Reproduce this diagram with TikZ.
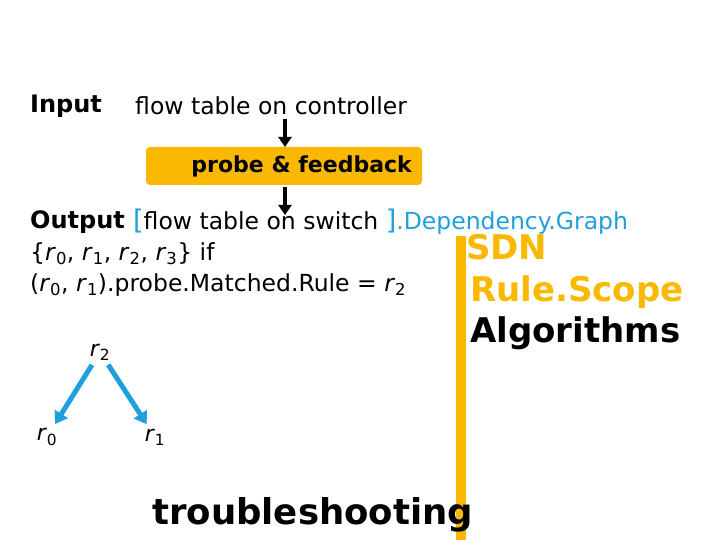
\documentclass[tikz,border=0pt]{standalone}
\usepackage{fontspec}
\setmainfont{DejaVu Sans}
\usetikzlibrary{arrows.meta}
\definecolor{org}{RGB}{250,184,0}
\definecolor{blu}{RGB}{30,160,220}
\newcommand{\rr}[1]{\textit{r}\textsubscript{#1}}
\begin{document}
\begin{tikzpicture}[x=1pt,y=-1pt,
  txt/.style={anchor=west,inner sep=0pt,font=\fontsize{23.5}{24}\selectfont},
  bt/.style={anchor=west,inner sep=0pt,font=\fontsize{24}{24}\selectfont\bfseries},
  big/.style={anchor=west,inner sep=0pt,font=\fontsize{34}{36}\selectfont\bfseries},
  rn/.style={circle,inner sep=1pt,minimum size=30pt,font=\fontsize{22}{24}\selectfont}]
\useasboundingbox (0,0) rectangle (720,540);
\node[bt] (in) at (30,106) {Input};
\node[txt] (ft) at (135,106) {flow table on controller};
\node[fill=org,rounded corners=4pt,minimum width=276pt,minimum height=38pt,inner sep=0pt] (pf) at (284,166) {};
\node[bt,anchor=east,font=\fontsize{22}{24}\selectfont\bfseries] (pft) at (412,166) {probe \& feedback};
\coordinate (a1) at (285,119);
\coordinate (a2) at (285,147);
\coordinate (a3) at (285,187);
\coordinate (a4) at (285,215);
\draw[line width=4pt,-{Triangle[width=13pt,length=10pt]}] (a1) -- (a2);
\draw[line width=4pt,-{Triangle[width=13pt,length=10pt]}] (a3) -- (a4);
\node[bt] (out) at (30,222) {Output};
\node[txt] (ft2) at (133,222) {{\color{blu}\fontsize{27}{27}\selectfont[}flow table on switch {\color{blu}\fontsize{27}{27}\selectfont]}\textcolor{blu}{.Dependency.Graph}};
\node[txt] (l1) at (30,254) {\{\rr{0}, \rr{1}, \rr{2}, \rr{3}\} if};
\node[txt] (l2) at (30,285) {(\rr{0}, \rr{1}).probe.Matched.Rule = \rr{2}};
\fill[org] (456,236) rectangle (466,540);
\node[big,text=org] (sdn) at (466,247) {SDN};
\node[big,text=org] (rs) at (470,292) {Rule.Scope};
\node[big] (alg) at (470,333) {Algorithms};
\node[big,font=\fontsize{35.5}{36}\selectfont\bfseries] (tr) at (152,515) {troubleshooting};
\node[rn] (r2) at (100,352) {\rr{2}};
\node[rn] (r0) at (47,437) {\rr{0}};
\node[rn] (r1) at (155,437) {\rr{1}};
\draw[blu,line width=5pt,-{Triangle[width=15pt,length=12pt]}] (r2) -- (r0);
\draw[blu,line width=5pt,-{Triangle[width=15pt,length=12pt]}] (r2) -- (r1);
\end{tikzpicture}
\end{document}
